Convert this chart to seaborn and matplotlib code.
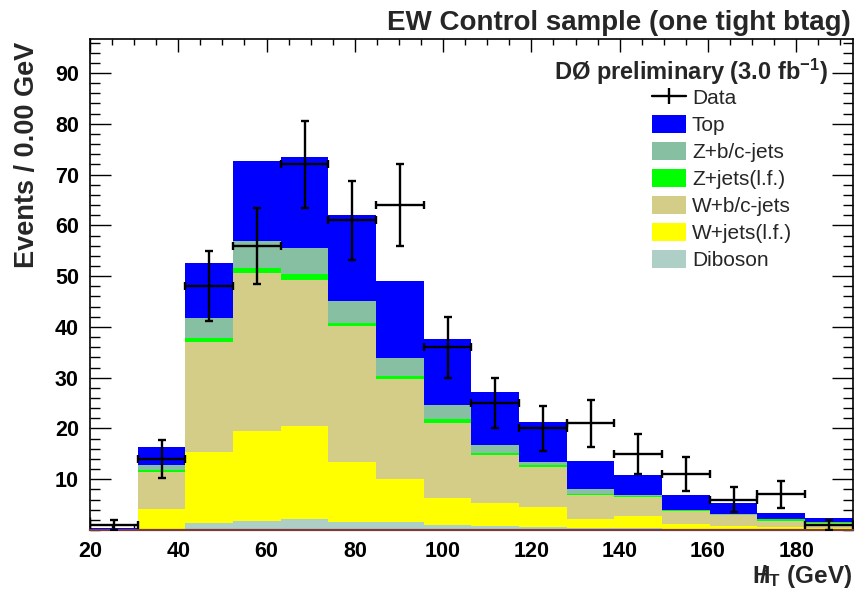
import numpy as np
import pandas as pd
import matplotlib
matplotlib.use("Agg")
import matplotlib.pyplot as plt
import seaborn as sns
from matplotlib.patches import Patch
from matplotlib.lines import Line2D
from matplotlib.ticker import MultipleLocator, FixedLocator

# ---------------- data ----------------
bin_edges = [20.0, 30.8, 41.6, 52.4, 63.2, 74.0, 84.8, 95.6, 106.4, 117.2,
             128.0, 138.8, 149.6, 160.4, 171.2, 182.0, 192.8]

# individual (non-cumulative) contributions per bin
diboson = [0.05, 0.2, 1.4, 1.8, 2.1, 1.6, 1.6, 1.0, 0.7, 0.5, 0.3, 0.3, 0.2, 0.15, 0.1, 0.1]
w_lf    = [0.05, 3.9, 14.0, 17.7, 18.4, 11.8, 8.4, 5.4, 4.6, 4.1, 1.9, 2.4, 1.0, 0.65, 0.4, 0.3]
w_bc    = [0.05, 7.4, 21.6, 31.2, 28.8, 26.8, 19.7, 14.7, 9.4, 7.9, 4.6, 3.8, 2.5, 2.1, 1.3, 1.0]
z_lf    = [0.02, 0.4, 0.9, 0.9, 1.1, 0.5, 0.7, 0.7, 0.5, 0.3, 0.3, 0.2, 0.15, 0.1, 0.3, 0.1]
z_bc    = [0.03, 0.9, 3.8, 5.4, 5.2, 4.4, 3.5, 2.8, 1.6, 0.5, 1.0, 0.25, 0.15, 0.1, 0.1, 0.1]
top     = [0.25, 3.6, 10.8, 15.6, 17.8, 16.9, 15.2, 13.0, 10.3, 7.9, 5.5, 3.85, 2.8, 2.2, 1.1, 0.8]

data_counts = [1, 14, 48, 56, 72, 61, 64, 36, 25, 20, 21, 15, 11, 6, 7, 1]

process_names = ["Top", "Z+b/c-jets", "Z+jets(l.f.)", "W+b/c-jets", "W+jets(l.f.)", "Diboson"]
process_colors = ["#0000FF", "#87BFA2", "#00FF00", "#D3CD88", "#FFFF00", "#AECFC6"]

title_text = "EW Control sample (one tight btag)"
exp_text = r"DØ preliminary (3.0 fb$^{\mathbf{-1}}$)"
ylabel_text = "Events / 0.00 GeV"
xlabel_text = r"$/\!\!\!\!H_{T}$ (GeV)"

# ---------------- build table ----------------
edges = np.array(bin_edges)
centers = 0.5 * (edges[:-1] + edges[1:])
halfw = 0.5 * (edges[1:] - edges[:-1])
series = [top, z_bc, z_lf, w_bc, w_lf, diboson]
rows = []
for name, vals in zip(process_names, series):
    for c, v in zip(centers, vals):
        rows.append({"x": float(c), "w": float(v), "process": name})
df = pd.DataFrame(rows)

# ---------------- style ----------------
sns.set_style("ticks")
plt.rcParams["font.family"] = ["Liberation Sans", "DejaVu Sans"]
plt.rcParams["mathtext.fontset"] = "custom"
plt.rcParams["mathtext.rm"] = "Liberation Sans:bold"
plt.rcParams["mathtext.it"] = "Liberation Sans:bold"
plt.rcParams["mathtext.bf"] = "Liberation Sans:bold"

W, H = 861, 591
fig = plt.figure(figsize=(W / 100, H / 100), dpi=100)
ax = fig.add_axes([90 / W, 1 - 530 / H, (852.7 - 90) / W, (530 - 39) / H])

palette = dict(zip(process_names, process_colors))
sns.histplot(data=df, x="x", weights="w", hue="process", hue_order=process_names,
             palette=palette, multiple="stack", bins=list(bin_edges), element="bars",
             linewidth=0, alpha=1, legend=False, ax=ax, shrink=1)

err = np.sqrt(np.array(data_counts, dtype=float))
ax.errorbar(centers, data_counts, xerr=halfw, yerr=err, fmt="none",
            ecolor="black", elinewidth=1.7, capsize=3, capthick=1.7, zorder=5)

ax.set_xlim(20, 192.8)
ax.set_ylim(0, 96.7)
ax.set_xlabel("")
ax.set_ylabel("")

ax.xaxis.set_major_locator(MultipleLocator(20))
ax.xaxis.set_minor_locator(MultipleLocator(5))
ax.yaxis.set_major_locator(FixedLocator([10, 20, 30, 40, 50, 60, 70, 80, 90]))
ax.yaxis.set_minor_locator(MultipleLocator(2))

ax.tick_params(axis="both", which="both", direction="in", top=True, right=True,
               labelsize=15.5, width=1.0, colors="black")
ax.tick_params(axis="y", which="major", length=15, pad=8)
ax.tick_params(axis="y", which="minor", length=7)
ax.tick_params(axis="x", which="major", length=9.5, pad=8)
ax.tick_params(axis="x", which="minor", length=4.5)
for lab in ax.get_xticklabels() + ax.get_yticklabels():
    lab.set_fontweight("bold")

for s in ax.spines.values():
    s.set_linewidth(1.2)
    s.set_color("black")
ax.spines["bottom"].set_color("#7a3b3b")
ax.spines["bottom"].set_linewidth(1.6)

# ---------------- texts ----------------
fig.text(851 / W, 1 - 30 / H, title_text, ha="right", va="baseline",
         fontsize=20, fontweight="bold")
fig.text(828 / W, 1 - 80 / H, exp_text, ha="right", va="baseline",
         fontsize=17, fontweight="bold")
fig.text(27.5 / W, 1 - 42 / H, ylabel_text, rotation=90, ha="center", va="top",
         fontsize=19.5, fontweight="bold")
fig.text(852 / W, 1 - 583 / H, xlabel_text, ha="right", va="baseline",
         fontsize=17.5, fontweight="bold")

# ---------------- legend ----------------
data_handle = Line2D([], [], color="black", lw=1.7, marker="|", markersize=11,
                     markeredgewidth=1.7)
handles = [data_handle] + [Patch(facecolor=c, edgecolor="none") for c in process_colors]
labels = ["Data"] + process_names
fs = 15
fig.legend(handles, labels, loc="upper left",
           bbox_to_anchor=(651.7 / W, 1 - 88 / H), bbox_transform=fig.transFigure,
           frameon=False, fontsize=fs, borderpad=0, borderaxespad=0,
           handlelength=1.65, handleheight=0.97, labelspacing=0.32,
           handletextpad=0.28, numpoints=1)

fig.savefig("out.png", dpi=100)
